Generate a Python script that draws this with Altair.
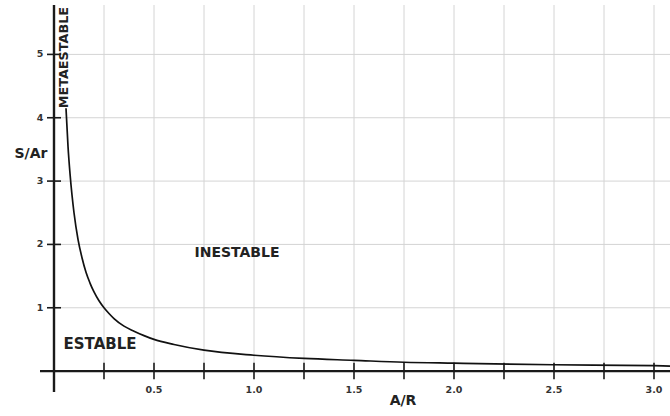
import altair as alt
import pandas as pd

# Stability curve S/Ar against A/R
ar = [0.06, 0.07, 0.08, 0.09, 0.10, 0.12, 0.14, 0.16, 0.18, 0.20, 0.225, 0.25, 0.275,
      0.30, 0.35, 0.40, 0.45, 0.50, 0.60, 0.75, 1.00, 1.25, 1.50, 1.75, 2.00, 2.50,
      3.00, 3.08]
sar = [4.15, 3.55, 3.12, 2.78, 2.50, 2.08, 1.79, 1.56, 1.39, 1.25, 1.11, 1.00, 0.91,
       0.83, 0.71, 0.63, 0.56, 0.50, 0.42, 0.33, 0.25, 0.20, 0.17, 0.14, 0.125, 0.10,
       0.085, 0.08]

# Grid / tick positions and labels
x_grid = [0.25, 0.5, 0.75, 1.0, 1.25, 1.5, 1.75, 2.0, 2.25, 2.5, 2.75, 3.0]
y_grid = [1, 2, 3, 4, 5]
x_label_vals = [0.5, 1.0, 1.5, 2.0, 2.5, 3.0]
x_label_text = ["0.5", "1.0", "1.5", "2.0", "2.5", "3.0"]
y_label_text = ["1", "2", "3", "4", "5"]

# Region annotations
region_text = ["INESTABLE", "ESTABLE"]
region_x = [0.915, 0.23]
region_y = [1.86, 0.42]
region_size = [14, 15]

X_DOM = [-0.07, 3.08]
Y_DOM = [-0.33, 5.78]
xs = alt.Scale(domain=X_DOM, nice=False, zero=False)
ys = alt.Scale(domain=Y_DOM, nice=False, zero=False)

FONT = "DejaVu Sans"


def X(field):
    return alt.X(field, type="quantitative", scale=xs, axis=None)


def Y(field):
    return alt.Y(field, type="quantitative", scale=ys, axis=None)


vgrid_df = pd.DataFrame({"gx": x_grid, "y0": 0.0, "y1": Y_DOM[1]})
hgrid_df = pd.DataFrame({"gy": y_grid, "x0": 0.0, "x1": X_DOM[1]})

vgrid = alt.Chart(vgrid_df).mark_rule(color="#d4d4d4", strokeWidth=1).encode(
    x=X("gx"), y=Y("y0"), y2="y1")
hgrid = alt.Chart(hgrid_df).mark_rule(color="#d4d4d4", strokeWidth=1).encode(
    y=Y("gy"), x=X("x0"), x2="x1")

axes_df = pd.DataFrame({
    "x": [X_DOM[0], 0.0], "x2": [X_DOM[1], 0.0],
    "y": [0.0, Y_DOM[0]], "y2": [0.0, Y_DOM[1]],
})
axes = alt.Chart(axes_df).mark_rule(color="#1a1a1a", strokeWidth=2.4).encode(
    x=X("x"), x2="x2", y=Y("y"), y2="y2")

xt_df = pd.DataFrame({"gx": x_grid, "a": -0.13, "b": 0.13})
xticks = alt.Chart(xt_df).mark_rule(color="#1a1a1a", strokeWidth=1.6).encode(
    x=X("gx"), y=Y("a"), y2="b")

yt_df = pd.DataFrame({"gy": y_grid, "a": -0.035, "b": 0.035})
yticks = alt.Chart(yt_df).mark_rule(color="#1a1a1a", strokeWidth=1.6).encode(
    y=Y("gy"), x=X("a"), x2="b")

curve_df = pd.DataFrame({"ar": ar, "sar": sar})
curve = alt.Chart(curve_df).mark_line(
    color="#111111", strokeWidth=1.7, interpolate="monotone").encode(
    x=X("ar"), y=Y("sar"))

xl_df = pd.DataFrame({"v": x_label_vals, "t": x_label_text, "y": -0.30})
xlabels = alt.Chart(xl_df).mark_text(
    font=FONT, fontSize=9.5, fontWeight="bold", color="#333333",
    align="center", baseline="middle").encode(x=X("v"), y=Y("y"), text="t:N")

yl_df = pd.DataFrame({"v": y_grid, "t": y_label_text, "x": -0.07})
ylabels = alt.Chart(yl_df).mark_text(
    font=FONT, fontSize=9.5, fontWeight="bold", color="#333333",
    align="center", baseline="middle").encode(x=X("x"), y=Y("v"), text="t:N")

reg_df = pd.DataFrame({"t": region_text, "x": region_x, "y": region_y, "s": region_size})
regions = alt.Chart(reg_df).mark_text(
    font=FONT, fontWeight="bold", color="#222222",
    align="center", baseline="middle").encode(
    x=X("x"), y=Y("y"), text="t:N",
    size=alt.Size("s:Q", scale=None, legend=None))

meta_df = pd.DataFrame({"t": ["METAESTABLE"], "x": [0.05], "y": [4.95]})
meta = alt.Chart(meta_df).mark_text(
    font=FONT, fontSize=12.8, fontWeight="bold", color="#222222", angle=270,
    align="center", baseline="middle").encode(x=X("x"), y=Y("y"), text="t:N")

titles_df = pd.DataFrame({"t": ["S/Ar", "A/R"], "x": [-0.115, 1.745], "y": [3.42, -0.47]})
titles = alt.Chart(titles_df).mark_text(
    font=FONT, fontSize=14, fontWeight="bold", color="#222222",
    align="center", baseline="middle").encode(x=X("x"), y=Y("y"), text="t:N")

chart = alt.layer(
    vgrid, hgrid, axes, xticks, yticks, curve, xlabels, ylabels, regions, meta, titles
).properties(
    width=630, height=387,
    autosize=alt.AutoSizeParams(type="none"),
    padding={"left": 40, "top": 5, "right": 0, "bottom": 24},
    background="white",
).configure_view(stroke=None)

chart.save("out.html", embed_options={"renderer": "svg", "actions": False})
